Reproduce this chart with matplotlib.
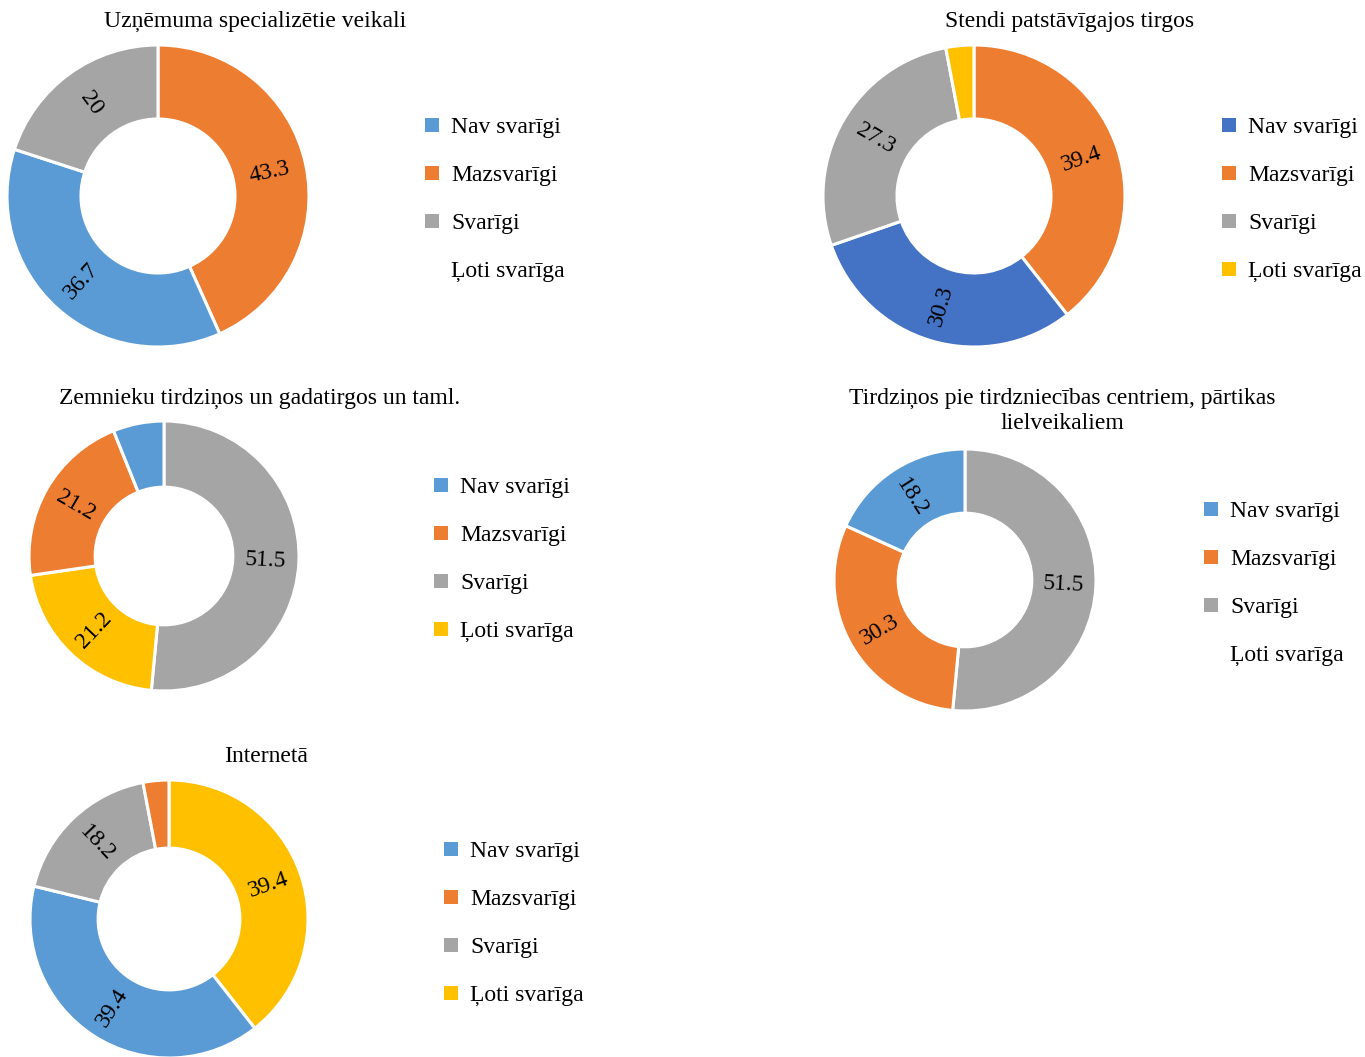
import numpy as np
import matplotlib
matplotlib.use('Agg')
import matplotlib.pyplot as plt
from matplotlib.patches import Rectangle

plt.rcParams['font.family'] = ['Liberation Serif', 'DejaVu Serif']
plt.rcParams['font.size'] = 17

W, H = 1365, 1057

categories = ['Nav svarīgi', 'Mazsvarīgi', 'Svarīgi', 'Ļoti svarīga']

titles = [
    'Uzņēmuma specializētie veikali',
    'Stendi patstāvīgajos tirgos',
    'Zemnieku tirdziņos un gadatirgos un taml.',
    'Tirdziņos pie tirdzniecības centriem, pārtikas\nlielveikaliem',
    'Internetā',
]

# values per category (Nav, Maz, Svar, Ļoti), 0 = no answers
values_veikali = [36.7, 43.3, 20.0, 0.0]
values_stendi = [30.3, 39.4, 27.3, 3.0]
values_zemnieku = [6.1, 21.2, 51.5, 21.2]
values_centri = [18.2, 30.3, 51.5, 0.0]
values_internets = [39.4, 3.0, 18.2, 39.4]

# order in which the slices run clockwise from 12 o'clock (category index)
order_veikali = [1, 0, 2, 3]
order_stendi = [1, 0, 2, 3]
order_zemnieku = [2, 3, 1, 0]
order_centri = [2, 1, 0, 3]
order_internets = [3, 0, 2, 1]

colors = ['#5B9BD5', '#ED7D31', '#A5A5A5', '#FFC000']
colors_stendi = ['#4472C4', '#ED7D31', '#A5A5A5', '#FFC000']


def fx(x):
    return x / W


def fy(y):
    return 1 - y / H


def donut(fig, cx, cy, r, vals, order, cols):
    ax = fig.add_axes([fx(cx - r), fy(cy + r), 2 * r / W, 2 * r / H])
    v = [vals[i] for i in order if vals[i] > 0]
    c = [cols[i] for i in order if vals[i] > 0]
    ax.pie(v, colors=c, startangle=90, counterclock=False, radius=1,
           wedgeprops=dict(width=0.49, edgecolor='white', linewidth=2.2))
    ax.set_xlim(-1, 1)
    ax.set_ylim(-1, 1)
    ax.axis('off')

    # radial value labels in the middle of the ring
    total = sum(v)
    start = 0.0
    for val in v:
        mid = (start + val / 2) / total * 360
        start += val
        if val < 10:
            continue
        ang = 90 - mid
        rad = np.deg2rad(ang)
        rot = (ang + 180) % 360 - 180
        if rot > 90:
            rot -= 180
        elif rot < -90:
            rot += 180
        ax.text(0.755 * np.cos(rad), 0.755 * np.sin(rad), '{:g}'.format(val),
                rotation=rot, rotation_mode='anchor', ha='center', va='center')
    return ax


def legend(fig, x, y0, vals, cols):
    for i, name in enumerate(categories):
        y = y0 + 48 * i
        col = cols[i] if vals[i] > 0 else 'none'
        fig.add_artist(Rectangle((fx(x), fy(y + 7)), 14 / W, 14 / H,
                                 facecolor=col, edgecolor='none',
                                 transform=fig.transFigure))
        fig.text(fx(x + 26), fy(y + 2), name, ha='left', va='center')


fig = plt.figure(figsize=(W / 100, H / 100), dpi=100)

donut(fig, 158, 196, 151, values_veikali, order_veikali, colors)
fig.text(fx(255), fy(21), titles[0], ha='center', va='center')
legend(fig, 425, 125, values_veikali, colors)

donut(fig, 974, 196, 151, values_stendi, order_stendi, colors_stendi)
fig.text(fx(1070), fy(21), titles[1], ha='center', va='center')
legend(fig, 1222, 125, values_stendi, colors_stendi)

donut(fig, 164, 556, 135, values_zemnieku, order_zemnieku, colors)
fig.text(fx(260), fy(398), titles[2], ha='center', va='center')
legend(fig, 434, 485, values_zemnieku, colors)

donut(fig, 965, 580, 131, values_centri, order_centri, colors)
fig.text(fx(1062), fy(411), titles[3], ha='center', va='center',
         linespacing=1.2)
legend(fig, 1204, 509, values_centri, colors)

donut(fig, 169, 919, 139, values_internets, order_internets, colors)
fig.text(fx(266), fy(757), titles[4], ha='center', va='center')
legend(fig, 444, 849, values_internets, colors)

fig.savefig('out.png', dpi=100, facecolor='white')
